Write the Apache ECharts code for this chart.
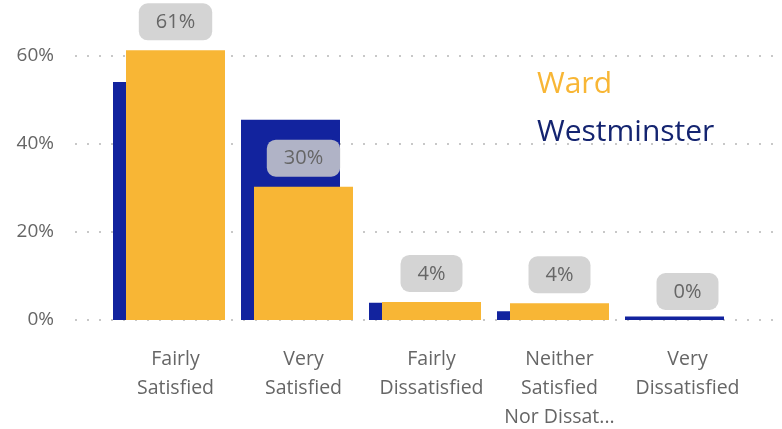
<!DOCTYPE html>
<html>
<head>
<meta charset="utf-8">
<script src="https://cdn.jsdelivr.net/npm/echarts@6/dist/echarts.min.js"></script>
<style>
  html, body { margin: 0; padding: 0; background: #fff; }
  #chart { width: 782px; height: 429px; }
</style>
</head>
<body>
<div id="chart"></div>
<script>
// data (percent)
var categories = ['Fairly\nSatisfied', 'Very\nSatisfied', 'Fairly\nDissatisfied', 'Neither\nSatisfied\nNor Dissat...', 'Very\nDissatisfied'];
var wardValues = [61.3, 30.3, 4.1, 3.8, 0];
var westminsterValues = [54.1, 45.5, 3.9, 2.0, 0.8];
var yTicks = [0, 20, 40, 60];

var chart = echarts.init(document.getElementById('chart'));

var FONT = '"Open Sans", "Noto Sans", sans-serif';
var WARD = '#F8B635';
var WEST = '#12239E';

var option = {
  animation: false,
  textStyle: { fontFamily: FONT },
  legend: {
    orient: 'vertical',
    left: 527,
    top: 64,
    itemGap: 18,
    icon: 'none',
    itemWidth: 0,
    selectedMode: false,
    data: [
      { name: 'Ward', textStyle: { color: WARD } },
      { name: 'Westminster', textStyle: { color: '#142470' } }
    ],
    textStyle: { fontSize: 30, fontFamily: FONT }
  },
  grid: [
    // bars
    { left: 111.5, right: 30.5, top: 56, bottom: 109, outerBoundsMode: 'none' },
    // gridlines + y labels
    { left: 75, right: 9, top: 56, bottom: 109, outerBoundsMode: 'none' }
  ],
  xAxis: [{
    type: 'category',
    gridIndex: 0,
    data: categories,
    axisLine: { show: false },
    axisTick: { show: false },
    axisLabel: {
      color: '#666666',
      fontSize: 19.5,
      lineHeight: 29,
      margin: 25,
      interval: 0,
      fontFamily: FONT
    }
  }, {
    type: 'value',
    gridIndex: 1,
    show: false
  }],
  yAxis: [{
    type: 'value',
    gridIndex: 0,
    min: 0,
    max: yTicks[yTicks.length - 1],
    interval: 20,
    show: false
  }, {
    type: 'value',
    gridIndex: 1,
    min: 0,
    max: yTicks[yTicks.length - 1],
    interval: 20,
    axisLine: { show: false },
    axisTick: { show: false },
    axisLabel: {
      color: '#666666',
      fontSize: 19,
      margin: 21,
      fontFamily: FONT,
      formatter: '{value}%'
    },
    splitLine: {
      lineStyle: { color: '#c8c8c8', width: 2, type: [2, 10] }
    }
  }],
  series: [{
    name: 'Westminster',
    type: 'bar',
    xAxisIndex: 0,
    yAxisIndex: 0,
    data: westminsterValues,
    barWidth: 99,
    barGap: '-86.87%',
    clip: false,
    itemStyle: { color: WEST }
  }, {
    name: 'Ward',
    type: 'bar',
    xAxisIndex: 0,
    yAxisIndex: 0,
    data: wardValues,
    barWidth: 99,
    barGap: '-86.87%',
    clip: false,
    itemStyle: { color: WARD },
    label: {
      show: true,
      position: 'top',
      distance: 10,
      color: '#666666',
      fontSize: 20,
      fontFamily: FONT,
      backgroundColor: 'rgba(204,204,204,0.85)',
      borderRadius: 9,
      padding: [9, 17, 8, 17],
      formatter: function (p) { return Math.round(p.value) + '%'; }
    }
  }, {
    // spacer so the Ward bar sits centred on its category
    name: 'spacer',
    type: 'bar',
    xAxisIndex: 0,
    yAxisIndex: 0,
    data: [],
    barWidth: 99,
    barGap: '-86.87%'
  }]
};

chart.setOption(option);
</script>
</body>
</html>
